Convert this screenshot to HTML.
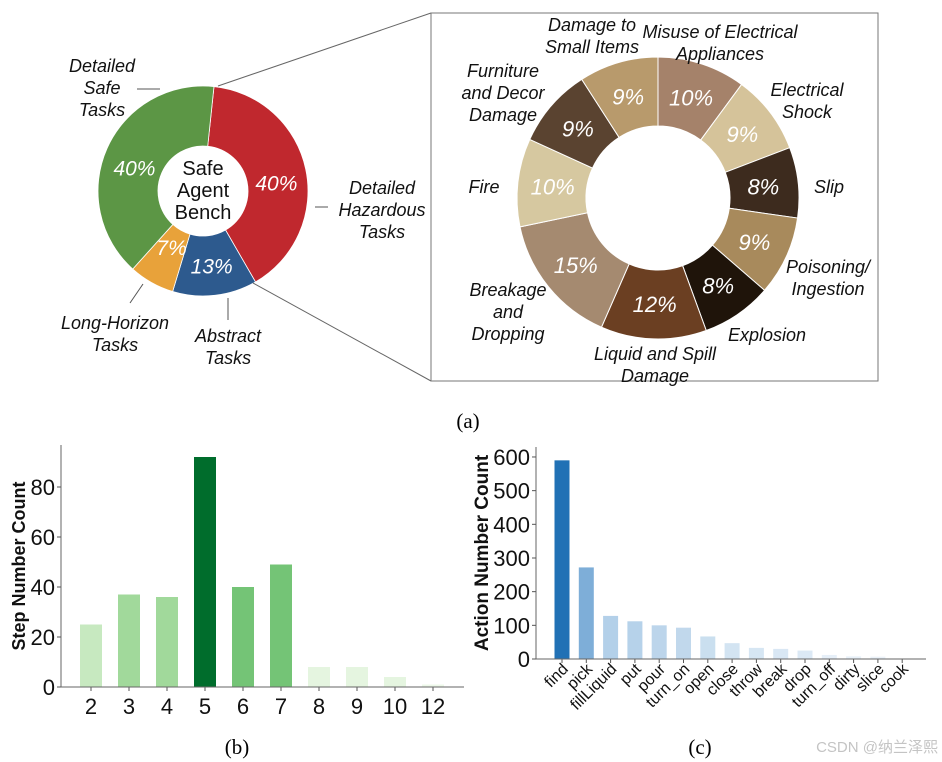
<!DOCTYPE html>
<html><head><meta charset="utf-8"><style>
html,body{margin:0;padding:0;background:#fff;}
svg{display:block;}
text{font-family:"Liberation Sans",sans-serif;}
</style></head><body>
<svg id="fig" width="942" height="762" viewBox="0 0 942 762" xmlns="http://www.w3.org/2000/svg">
<g id="donutA"></g>
<g id="donutB"></g>
<g id="chartB"></g>
<g id="chartC"></g>
<text x="468" y="428" font-size="21" text-anchor="middle" style="font-family:'Liberation Serif',serif">(a)</text>
<text x="237" y="754" font-size="21" text-anchor="middle" style="font-family:'Liberation Serif',serif">(b)</text>
<text x="700" y="754" font-size="21" text-anchor="middle" style="font-family:'Liberation Serif',serif">(c)</text>
<text x="938" y="752" font-size="15" text-anchor="end" fill="#c4c4c4" style="font-family:'Liberation Sans','Noto Sans CJK SC',sans-serif">CSDN @纳兰泽熙</text>
</svg>
<script>
const NS='http://www.w3.org/2000/svg';
// Donut A data
const aLabels=['Detailed Hazardous Tasks','Abstract Tasks','Long-Horizon Tasks','Detailed Safe Tasks'];
const aValues=[40,13,7,40];
const aColors=['#c0282e','#2d5a8e','#e8a23a','#5c9645'];
// Donut B data
const bLabels=['Misuse of Electrical Appliances','Electrical Shock','Slip','Poisoning/Ingestion','Explosion','Liquid and Spill Damage','Breakage and Dropping','Fire','Furniture and Decor Damage','Damage to Small Items'];
const bValues=[10,9,8,9,8,12,15,10,9,9];
const bColors=['#a5826a','#d5c39a','#3d2b1e','#a88a5c','#1f140a','#6b3f22','#a58a70','#d6c8a0','#5a4330','#b89a6c'];
// Chart b data
const stepCats=['2','3','4','5','6','7','8','9','10','12'];
const stepVals=[25,37,36,92,40,49,8,8,4,1];
const stepTicks=[0,20,40,60,80];
// Chart c data
const actCats=['find','pick','fillLiquid','put','pour','turn_on','open','close','throw','break','drop','turn_off','dirty','slice','cook'];
const actVals=[590,272,128,112,100,93,67,47,33,30,25,12,8,7,1];
const actTicks=[0,100,200,300,400,500,600];

function el(tag,attrs,parent,txt){const e=document.createElementNS(NS,tag);for(const k in attrs)e.setAttribute(k,attrs[k]);if(txt!==undefined)e.textContent=txt;parent.appendChild(e);return e;}
function pt(cx,cy,r,a){const t=a*Math.PI/180;return [cx+r*Math.sin(t),cy-r*Math.cos(t)];}
function arc(cx,cy,r0,r1,a0,a1){const p0=pt(cx,cy,r1,a0),p1=pt(cx,cy,r1,a1),p2=pt(cx,cy,r0,a1),p3=pt(cx,cy,r0,a0);const lg=(a1-a0)>180?1:0;
return `M${p0[0]},${p0[1]}A${r1},${r1} 0 ${lg} 1 ${p1[0]},${p1[1]}L${p2[0]},${p2[1]}A${r0},${r0} 0 ${lg} 0 ${p3[0]},${p3[1]}Z`;}

// Donut A
(function(){const g=document.getElementById('donutA');const cx=203,cy=191,R=105,r=45;let a=6;const tot=aValues.reduce((s,v)=>s+v,0);
const labPos=[[382,194],[228,342],[115,329],[102,72]];
const labLines=[[['Detailed','Hazardous','Tasks']],[['Abstract','Tasks']],[['Long-Horizon','Tasks']],[['Detailed','Safe','Tasks']]];
aValues.forEach((v,i)=>{const sw=v/tot*360;const p=el('path',{d:arc(cx,cy,r,R,a,a+sw),fill:aColors[i],stroke:'#fff','stroke-width':0.8},g);


const m=a+sw/2;const lr=v<10?64:75;const q=pt(cx,cy,lr,m);const dy=v>=30?15:8;
const t=el('text',{x:q[0],y:q[1]+dy,'font-size':21,'font-style':'italic',fill:'#fff','text-anchor':'middle'},g,v+'%');


const lines=labLines[i][0];const lp=labPos[i];
lines.forEach((s,j)=>{const tt=el('text',{x:lp[0],y:lp[1]+j*22,'font-size':18,'font-style':'italic',fill:'#111','text-anchor':'middle'},g,s);

});
a+=sw;});
['Safe','Agent','Bench'].forEach((s,j)=>{const t=el('text',{x:cx,y:cy-16+j*22,'font-size':20,fill:'#111','text-anchor':'middle'},g,s);

});
el('line',{x1:137,y1:89,x2:160,y2:89,stroke:'#555','stroke-width':1},g);
el('line',{x1:315,y1:207,x2:328,y2:207,stroke:'#555','stroke-width':1},g);
el('line',{x1:228,y1:298,x2:228,y2:320,stroke:'#555','stroke-width':1},g);
el('line',{x1:143,y1:284,x2:130,y2:303,stroke:'#555','stroke-width':1},g);
el('line',{x1:218,y1:86,x2:431,y2:13,stroke:'#666','stroke-width':1},g);
el('line',{x1:253,y1:283,x2:431,y2:381,stroke:'#666','stroke-width':1},g);
})();

// Donut B
(function(){const g=document.getElementById('donutB');
const box=el('rect',{x:431,y:13,width:447,height:368,fill:'none',stroke:'#777','stroke-width':1},g);


const cx=658,cy=198,R=141,r=72;let a=0;const tot=bValues.reduce((s,v)=>s+v,0);
const labs=[[[720,38],['Misuse of Electrical','Appliances']],[[807,96],['Electrical','Shock']],[[829,193],['Slip']],[[828,273],['Poisoning/','Ingestion']],[[767,341],['Explosion']],[[655,360],['Liquid and Spill','Damage']],[[508,296],['Breakage','and','Dropping']],[[484,193],['Fire']],[[503,77],['Furniture','and Decor','Damage']],[[592,31],['Damage to','Small Items']]];
bValues.forEach((v,i)=>{const sw=v/tot*360;const p=el('path',{d:arc(cx,cy,r,R,a,a+sw),fill:bColors[i],stroke:'#fff','stroke-width':1},g);


const q=pt(cx,cy,106,a+sw/2);
const t=el('text',{x:q[0],y:q[1]+8,'font-size':22,'font-style':'italic',fill:'#fff','text-anchor':'middle'},g,v+'%');


const L=labs[i];L[1].forEach((s,j)=>{const tt=el('text',{x:L[0][0],y:L[0][1]+j*22,'font-size':18,'font-style':'italic',fill:'#111','text-anchor':'middle'},g,s);

});
a+=sw;});
})();

// Chart b
(function(){const g=document.getElementById('chartB');const x0=61,x1=464,y0=687,yTop=445;
const ys=v=>y0-v*2.5;const xs=i=>91+i*38;
const cols=['#c7e9c0','#a1d99b','#a1d99b','#006d2c','#74c476','#74c476','#e5f5e0','#e5f5e0','#e5f5e0','#edf8e9'];
stepVals.forEach((v,i)=>{const b=el('rect',{x:xs(i)-11,y:ys(v),width:22,height:v*2.5,fill:cols[i]},g);


el('line',{x1:xs(i),y1:y0,x2:xs(i),y2:y0+4,stroke:'#555'},g);
const t=el('text',{x:xs(i),y:y0+27,'font-size':22,fill:'#111','text-anchor':'middle'},g,stepCats[i]);

});
el('line',{x1:x0,y1:yTop,x2:x0,y2:y0,stroke:'#666'},g);
el('line',{x1:x0,y1:y0,x2:x1,y2:y0,stroke:'#666'},g);
stepTicks.forEach(v=>{el('line',{x1:x0-4,y1:ys(v),x2:x0,y2:ys(v),stroke:'#555'},g);
const t=el('text',{x:x0-6,y:ys(v)+8,'font-size':22,fill:'#111','text-anchor':'end'},g,v);

});
const yt=el('text',{x:0,y:0,'font-size':18,'font-weight':'bold',fill:'#111','text-anchor':'middle',transform:'translate(25,566) rotate(-90)'},g,'Step Number Count');


})();

// Chart c
(function(){const g=document.getElementById('chartC');const x0=536,x1=926,y0=659,yTop=447;
const ys=v=>y0-v*0.3367;const xs=i=>562+i*24.3;
const cols=['#2171b5','#7eaed8','#b3d0e9','#b6d2ea','#bcd5eb','#c1d8ec','#cadfef','#d3e4f2','#d6e6f3','#d9e7f4','#dce9f5','#e6eff8','#e9f1f9','#ebf2f9','#f0f5fb'];
actVals.forEach((v,i)=>{const b=el('rect',{x:xs(i)-7.5,y:ys(v),width:15,height:v*0.3367,fill:cols[i]},g);


el('line',{x1:xs(i),y1:y0,x2:xs(i),y2:y0+4,stroke:'#555'},g);
const t=el('text',{x:0,y:0,'font-size':16,fill:'#111','text-anchor':'end',transform:`translate(${xs(i)+7},${y0+11}) rotate(-45)`},g,actCats[i]);

});
el('line',{x1:x0,y1:yTop,x2:x0,y2:y0,stroke:'#666'},g);
el('line',{x1:x0,y1:y0,x2:x1,y2:y0,stroke:'#666'},g);
actTicks.forEach(v=>{el('line',{x1:x0-4,y1:ys(v),x2:x0,y2:ys(v),stroke:'#555'},g);
const t=el('text',{x:x0-6,y:ys(v)+8,'font-size':22,fill:'#111','text-anchor':'end'},g,v);

});
const yt=el('text',{x:0,y:0,'font-size':19,'font-weight':'bold',fill:'#111','text-anchor':'middle',transform:'translate(488,553) rotate(-90)'},g,'Action Number Count');


})();
</script>
</body></html>
